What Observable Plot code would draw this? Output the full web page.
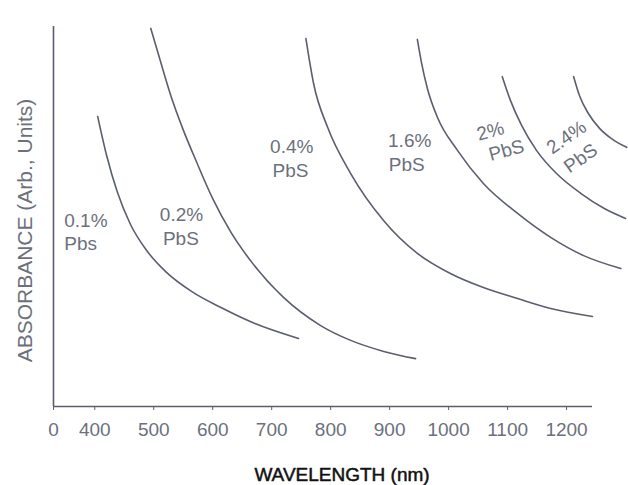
<!DOCTYPE html>
<html>
<head>
<meta charset="utf-8">
<script src="https://cdn.jsdelivr.net/npm/d3@7"></script>
<script src="https://cdn.jsdelivr.net/npm/@observablehq/plot@0.6"></script>
<style>
  html, body { margin: 0; padding: 0; background: #fff; }
</style>
</head>
<body>
<div id="chart"></div>
<script>
// Series: wavelength (nm) and absorbance (arb. units)
const series = ["0.1% PbS", "0.2% PbS", "0.4% PbS", "1.6% PbS", "2% PbS", "2.4% PbS"];

const wl01 = [405, 420, 438.5, 460.6, 487.7, 521.6, 564, 613.2, 667.5, 745.5];
const ab01 = [76.3, 66.1, 56.3, 47.9, 41.1, 35.3, 30.3, 26.1, 22.1, 17.9];

const wl02 = [495, 512, 529, 549, 573, 600, 631, 668, 720, 783, 834, 890, 944];
const ab02 = [99.5, 90.5, 81.8, 73.2, 64.2, 54.7, 45.8, 37.6, 28.7, 21.3, 17.4, 14.5, 12.6];

const wl04 = [758, 771, 795, 834, 890, 947, 1003, 1059, 1117, 1173, 1244];
const ab04 = [96.8, 85.0, 73.4, 61.3, 48.9, 40.3, 35.0, 31.3, 28.4, 25.8, 23.7];

const wl16 = [947, 954, 964, 981, 1015, 1059, 1117, 1173, 1229, 1292];
const ab16 = [96.6, 90.5, 83.7, 76.1, 67.4, 58.7, 50.8, 44.5, 39.7, 36.3];

const wl20 = [1091, 1105, 1124, 1149, 1183, 1224, 1264, 1300];
const ab20 = [86.8, 80.5, 73.9, 67.4, 61.3, 56.1, 52.1, 49.5];

const wl24 = [1212, 1222, 1237, 1256, 1278, 1302];
const ab24 = [86.8, 81.8, 77.1, 73.2, 70.3, 68.2];

// Axis ticks
const xTicks = [330, 400, 500, 600, 700, 800, 900, 1000, 1100, 1200];
const xTickLabels = ["0", "400", "500", "600", "700", "800", "900", "1000", "1100", "1200"];

// Curve annotations (anchored in data units)
const labelLine1 = ["0.1%", "0.2%", "0.4%", "1.6%", "2%", "2.4%"];
const labelLine2 = ["Pbs", "PbS", "PbS", "PbS", "PbS", "PbS"];
const label1X = [385, 547, 734, 934, 1071, 1200];
const label1Y = [48.9, 50.3, 68.4, 70.0, 72.4, 70.8];
const label2X = [376, 546, 732, 929, 1098, 1224];
const label2Y = [42.9, 44.2, 62.1, 63.7, 67.4, 65.3];
const labelAngle = [0, 0, 0, 0, -15, -35];

const xs = [wl01, wl02, wl04, wl16, wl20, wl24];
const ys = [ab01, ab02, ab04, ab16, ab20, ab24];
const curves = series.flatMap((s, i) => xs[i].map((w, j) => ({series: s, wl: w, ab: ys[i][j]})));
const labels = labelLine1.map((t, i) => ({
  t1: t, t2: labelLine2[i], x1: label1X[i], y1: label1Y[i], x2: label2X[i], y2: label2Y[i], r: labelAngle[i]
}));

const ink = "#5a5e6e";
const grey = "#6c707c";

const chart = Plot.plot({
  width: 628,
  height: 485,
  marginLeft: 53,
  marginRight: 36,
  marginTop: 26,
  marginBottom: 79,
  style: {fontFamily: "'Liberation Sans', Arial, sans-serif", background: "#fff"},
  x: {domain: [330, 1244]},
  y: {domain: [0, 100], axis: null},
  marks: [
    Plot.line(curves, {x: "wl", y: "ab", z: "series", curve: "monotone-x", stroke: ink, strokeWidth: 1.6}),
    Plot.ruleY([0], {stroke: ink, strokeWidth: 1.6}),
    Plot.ruleX([330], {stroke: ink, strokeWidth: 1.6}),
    Plot.axisX({
      ticks: xTicks,
      tickFormat: (d) => xTickLabels[xTicks.indexOf(d)],
      tickSize: 4,
      tickPadding: 12,
      fontSize: 19,
      stroke: ink,
      fill: grey,
      label: null
    }),
    Plot.text(labels, {x: "x1", y: "y1", text: "t1", rotate: "r", fontSize: 19, fill: grey}),
    Plot.text(labels, {x: "x2", y: "y2", text: "t2", rotate: "r", fontSize: 19, fill: grey}),
    Plot.text(["WAVELENGTH (nm)"], {
      frameAnchor: "bottom", lineAnchor: "middle", textAnchor: "middle", dx: 19, dy: 68,
      fontSize: 19, fill: "#111", stroke: "#111", strokeWidth: 0.5
    }),
    Plot.text(["ABSORBANCE (Arb., Units)"], {
      frameAnchor: "left", textAnchor: "middle", lineAnchor: "middle", rotate: -90, dx: -28, dy: 14, fontSize: 21, fill: grey
    })
  ]
});
document.getElementById("chart").appendChild(chart);
</script>
</body>
</html>
